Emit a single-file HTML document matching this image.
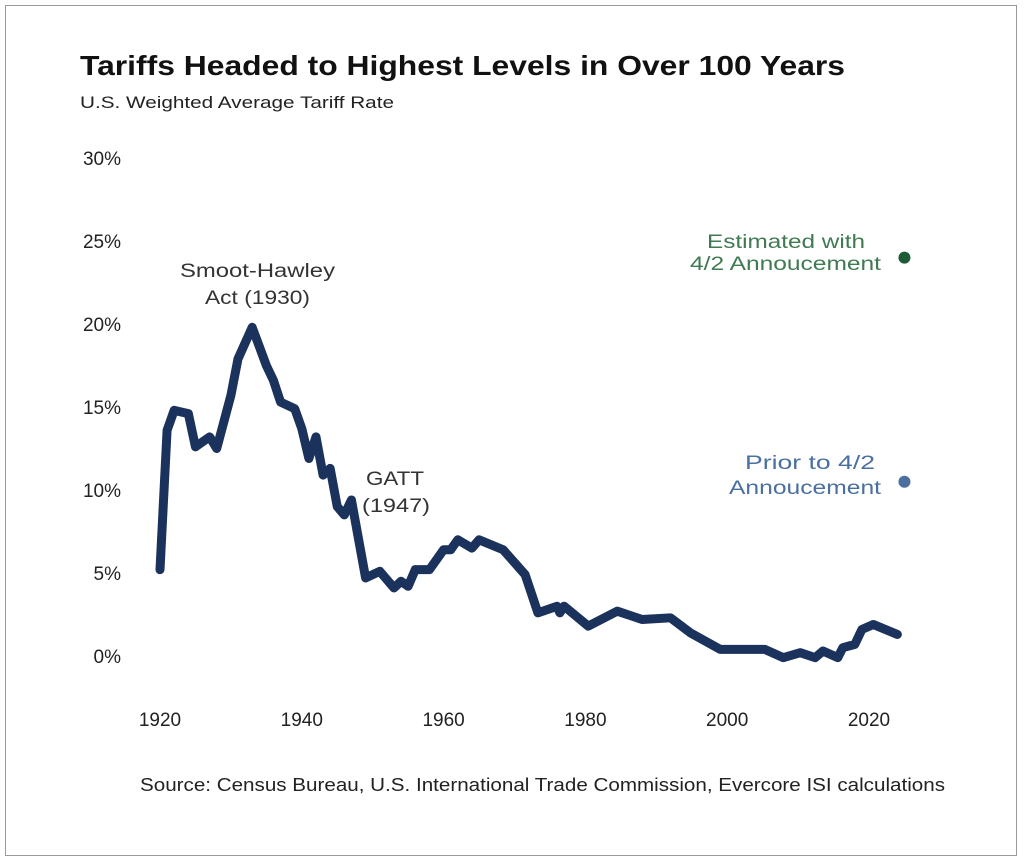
<!DOCTYPE html>
<html><head><meta charset="utf-8"><style>
body{margin:0;background:#fff;font-family:"Liberation Sans",sans-serif}
#frame{position:absolute;left:5px;top:5px;width:1012px;height:851px;border:1.5px solid #9a9a9a;box-sizing:border-box}
</style></head><body>
<div id="frame"></div>
<svg width="1024" height="864" style="position:absolute;left:0;top:0" id="chart">
<text x="80" y="75" font-size="28" font-weight="bold" fill="#111" textLength="765" lengthAdjust="spacingAndGlyphs">Tariffs Headed to Highest Levels in Over 100 Years</text>
<text x="80" y="108" font-size="17" fill="#222" textLength="314" lengthAdjust="spacingAndGlyphs">U.S. Weighted Average Tariff Rate</text>
<text x="180" y="277" font-size="19" fill="#333" textLength="155" lengthAdjust="spacingAndGlyphs">Smoot-Hawley</text>
<text x="205" y="304" font-size="19" fill="#333" textLength="105" lengthAdjust="spacingAndGlyphs">Act (1930)</text>
<text x="366" y="485" font-size="19" fill="#333" textLength="58" lengthAdjust="spacingAndGlyphs">GATT</text>
<text x="362" y="512" font-size="19" fill="#333" textLength="68" lengthAdjust="spacingAndGlyphs">(1947)</text>
<text x="707" y="248" font-size="19" fill="#3f7a52" textLength="158" lengthAdjust="spacingAndGlyphs">Estimated with</text>
<text x="690" y="270" font-size="19" fill="#3f7a52" textLength="191" lengthAdjust="spacingAndGlyphs">4/2 Annoucement</text>
<text x="745" y="469" font-size="19" fill="#4a6fa0" textLength="130" lengthAdjust="spacingAndGlyphs">Prior to 4/2</text>
<text x="729" y="494" font-size="19" fill="#4a6fa0" textLength="152" lengthAdjust="spacingAndGlyphs">Annoucement</text>
<text x="140" y="791" font-size="18" fill="#222" textLength="805" lengthAdjust="spacingAndGlyphs">Source: Census Bureau, U.S. International Trade Commission, Evercore ISI calculations</text>
<g id="axes"></g>
<path id="line" fill="none" stroke="#1b325c" stroke-width="9" stroke-linejoin="round" stroke-linecap="round"></path>
<g id="dots"></g>
</svg>
<script>
const years=[1920,1921,1922,1924,1925,1927,1928,1930,1931,1933,1935,1936,1937,1939,1940,1941,1942,1943,1944,1945,1946,1947,1949,1951,1953,1954,1955,1956,1958,1960,1961,1962,1964,1965,1968.4,1971.5,1973.3,1976,1976.4,1977,1980.4,1984.5,1988,1992,1994.8,1999,2005.3,2007.9,2010.3,2012.4,2013.5,2015.6,2016.3,2018,2019,2020.6,2024];
const rates=[5.2,13.6,14.8,14.6,12.6,13.2,12.5,15.7,17.9,19.8,17.5,16.6,15.3,14.9,13.7,11.9,13.2,10.9,11.3,9.0,8.5,9.4,4.7,5.1,4.1,4.5,4.2,5.2,5.2,6.4,6.4,7.0,6.5,7.0,6.4,4.9,2.6,3.0,2.6,3.0,1.8,2.7,2.2,2.3,1.4,0.4,0.4,-0.1,0.2,-0.1,0.3,-0.1,0.5,0.7,1.6,1.9,1.3];
const yTicks=[0,5,10,15,20,25,30];
const xTicks=[1920,1940,1960,1980,2000,2020];
const estimateYear=2025, estimateRate=24.0, priorRate=10.5;
const X=y=>160+(y-1920)*7.09, Y=v=>656-v*16.6;
const ns="http://www.w3.org/2000/svg", ax=document.getElementById('axes');
yTicks.forEach(t=>{const e=document.createElementNS(ns,'text');
e.setAttribute('x',121);e.setAttribute('y',Y(t)+7);e.setAttribute('font-size','19');e.setAttribute('fill','#222');e.setAttribute('text-anchor','end');


e.textContent=t+'%';ax.appendChild(e);});
xTicks.forEach(t=>{const e=document.createElementNS(ns,'text');
e.setAttribute('x',X(t));e.setAttribute('y',726);e.setAttribute('font-size','19');e.setAttribute('fill','#222');e.setAttribute('text-anchor','middle');


e.textContent=t;ax.appendChild(e);});
document.getElementById('line').setAttribute('d',years.map((y,i)=>(i?'L':'M')+X(y)+','+Y(rates[i])).join(''));
const dg=document.getElementById('dots');
[[estimateRate,'#1f5a36','estimate-dot'],[priorRate,'#4a6fa0','prior-dot']].forEach(d=>{const c=document.createElementNS(ns,'circle');
c.setAttribute('cx',X(estimateYear));c.setAttribute('cy',Y(d[0]));c.setAttribute('r',6);c.setAttribute('fill',d[1]);


dg.appendChild(c);});
</script>
</body></html>
